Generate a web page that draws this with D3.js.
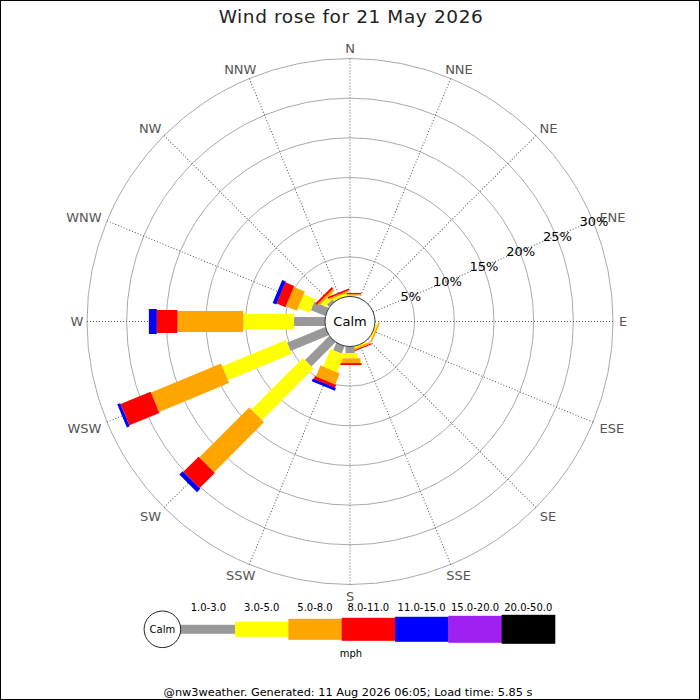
<!DOCTYPE html>
<html>
<head>
<meta charset="utf-8">
<script src="https://cdn.jsdelivr.net/npm/d3@7/dist/d3.min.js"></script>
<style>
  html, body { margin: 0; padding: 0; background: #fff; }
  svg { display: block; font-family: "DejaVu Sans", sans-serif; }
</style>
</head>
<body>
<svg id="chart" width="700" height="700"></svg>
<script>
// ---------- data ----------
const directions = ["N","NNE","NE","ENE","E","ESE","SE","SSE","S","SSW","SW","WSW","W","WNW","NW","NNW"];
const speedBins = ["1.0-3.0","3.0-5.0","5.0-8.0","8.0-11.0","11.0-15.0","15.0-20.0","20.0-50.0"];
const binColors = ["#999999","#ffff00","#ffa500","#ff0000","#0000ff","#a020f0","#000000"];
// percentage of time per direction for each speed bin (mph)
//                    N    NNE  NE   ENE  E    ESE  SE   SSE  S     SSW  SW   WSW   W    WNW  NW    NNW
const speed1to3   = [0,   0,   0,   0,   0,   0,   0,   0,   0.82, 1.0, 4.3, 5.2,  3.9, 1.95, 0.4,  0];
const speed3to5   = [0.15,0,   0,   0,   0,   0.2, 0,   0.2, 0.67, 2.4, 9.2, 8.7,  6.4, 1.6,  0.6,  0.35];
const speed5to8   = [0.15,0,   0,   0,   0,   0.2, 0,   0.2, 0.6,  1.5, 8.9, 9.55, 8.3, 1.5,  0.3,  0.2];
const speed8to11  = [0.15,0,   0,   0,   0,   0,   0,   0.15,0.25, 0.38,2.7, 4.1,  2.6, 1.2,  0.25, 0.2];
const speed11to15 = [0,   0,   0,   0,   0,   0,   0,   0,   0,    0.38,0.6, 0.4,  1.0, 0.5,  0,    0];
const speed15to20 = [0,   0,   0,   0,   0,   0,   0,   0,   0,    0,   0,   0,    0,   0,    0,    0];
const speed20to50 = [0,   0,   0,   0,   0,   0,   0,   0,   0,    0,   0,   0,    0,   0,    0,    0];
const series = [speed1to3, speed3to5, speed5to8, speed8to11, speed11to15, speed15to20, speed20to50];
const ringTicks = [5, 10, 15, 20, 25, 30];
const ringLabels = ["5%", "10%", "15%", "20%", "25%", "30%"];
const titleText = "Wind rose for 21 May 2026";
const unitText = "mph";
const footerText = "@nw3weather. Generated: 11 Aug 2026 06:05; Load time: 5.85 s";

// ---------- layout ----------
const svg = d3.select("#chart");
const cx = 350, cy = 321.5;
const calmR = 25, outerR = 263;
const barWidths = [9, 15, 21, 23, 25, 27, 29];
const r = d3.scaleLinear().domain([0, 30]).range([calmR, outerR]);
const ang = d3.scaleLinear().domain([0, directions.length]).range([0, 360]);

svg.append("rect").attr("x", 0.5).attr("y", 0.5).attr("width", 699).attr("height", 699)
  .attr("fill", "#fff").attr("stroke", "#000");

svg.append("text").attr("x", 351).attr("y", 23).attr("text-anchor", "middle")
  .attr("font-size", 18.5).attr("letter-spacing", 0.6).attr("fill", "#222").text(titleText);

const g = svg.append("g").attr("transform", `translate(${cx},${cy})`);

// grid circles
g.selectAll("circle.ring").data(ringTicks).join("circle").attr("class", "ring")
  .attr("r", d => r(d)).attr("fill", "none").attr("stroke", "#aaa").attr("stroke-width", 1);

// direction lines
g.selectAll("line.dir").data(directions).join("line").attr("class", "dir")
  .attr("transform", (d, i) => `rotate(${ang(i)})`)
  .attr("x1", 0).attr("y1", -calmR).attr("x2", 0).attr("y2", -outerR)
  .attr("stroke", "#555").attr("stroke-width", 1).attr("stroke-dasharray", "1,2");

// bars
directions.forEach((dName, i) => {
  const leg = g.append("g").attr("transform", `rotate(${ang(i)})`);
  let cum = 0;
  series.forEach((s, j) => {
    const v = s[i];
    if (v > 0) {
      leg.append("rect")
        .attr("x", -barWidths[j] / 2).attr("width", barWidths[j])
        .attr("y", -r(cum + v)).attr("height", r(cum + v) - r(cum))
        .attr("fill", binColors[j]);
    }
    cum += v;
  });
});

// calm circle
g.append("circle").attr("r", calmR).attr("fill", "#fff").attr("stroke", "#333").attr("stroke-width", 1);
g.append("text").attr("text-anchor", "middle").attr("dy", "0.35em").attr("font-size", 13)
  .attr("fill", "#000").text("Calm");

// direction labels
const labR = 273;
directions.forEach((dName, i) => {
  const a = ang(i) * Math.PI / 180;
  const ux = Math.sin(a), uy = -Math.cos(a);
  const t = g.append("text").attr("font-size", 13).attr("fill", "#555")
    .attr("text-anchor", "middle").attr("dy", "0.36em").text(dName);
  const w = t.node().getComputedTextLength();
  const diag = Math.abs(ux) > 0.05 && Math.abs(ux) < 0.99;
  const x = ux * labR + (diag ? Math.sign(ux) * (w / 2) * Math.abs(ux) * 0.85 : 0);
  const y = uy * labR + (uy > 0.1 ? 2 : 0);
  t.attr("x", x).attr("y", y);
});

// ring labels along ENE
const labA = ang(3) * Math.PI / 180;
g.selectAll("text.ringlab").data(ringTicks).join("text").attr("class", "ringlab")
  .attr("x", d => Math.sin(labA) * r(d) + 1).attr("y", d => -Math.cos(labA) * r(d))
  .attr("text-anchor", "middle").attr("dy", "0.36em").attr("font-size", 13).attr("fill", "#000")
  .text((d, i) => ringLabels[i]);

// legend
const lx = d3.scaleBand().domain(speedBins).range([181.7, 555]);
const ly = 629.3;
const lg = svg.append("g");
lg.selectAll("rect").data(speedBins).join("rect")
  .attr("x", d => lx(d)).attr("width", lx.bandwidth() + 0.3)
  .attr("y", (d, i) => ly - barWidths[i] / 2)
  .attr("height", (d, i) => barWidths[i])
  .attr("fill", (d, i) => binColors[i]);
lg.append("rect").attr("x", 162).attr("width", 20).attr("y", ly - barWidths[0] / 2).attr("height", barWidths[0]).attr("fill", binColors[0]);
lg.append("circle").attr("cx", 162.4).attr("cy", ly).attr("r", 18.3).attr("fill", "#fff").attr("stroke", "#222");
lg.append("text").attr("x", 162.4).attr("y", ly).attr("dy", "0.35em").attr("text-anchor", "middle")
  .attr("font-size", 10).attr("fill", "#000").text("Calm");
lg.selectAll("text.lab").data(speedBins).join("text").attr("class", "lab")
  .attr("x", d => lx(d) + lx.bandwidth() / 2).attr("y", 611)
  .attr("text-anchor", "middle").attr("font-size", 10).attr("fill", "#000").text(d => d);
lg.append("text").attr("x", 351).attr("y", 657).attr("text-anchor", "middle")
  .attr("font-size", 10).attr("fill", "#000").text(unitText);

svg.append("text").attr("x", 348).attr("y", 696).attr("text-anchor", "middle")
  .attr("font-size", 11.3).attr("fill", "#000").text(footerText);
</script>
</body>
</html>
